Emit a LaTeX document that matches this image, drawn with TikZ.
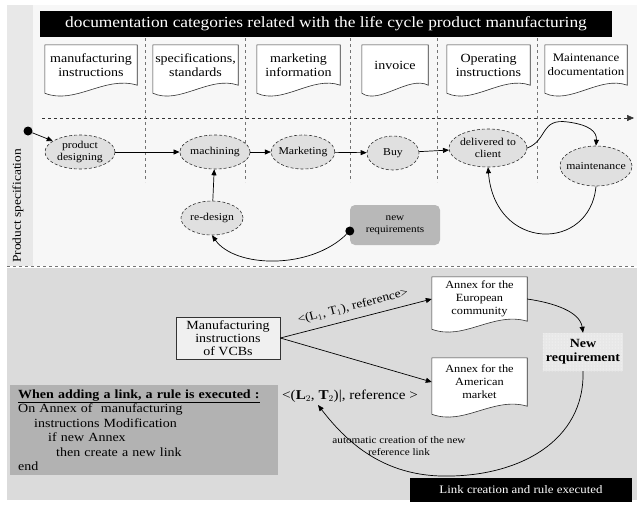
\documentclass[tikz,border=0pt]{standalone}
\usepackage{fontspec}
\setmainfont{Liberation Serif}[FakeStretch=1.12]
\usepackage{tikz}
\usetikzlibrary{calc}
\usetikzlibrary{arrows.meta}
\usetikzlibrary{patterns}
\usetikzlibrary{shapes.geometric}
\pgfdeclarelayer{bg}
\pgfdeclarelayer{mid}
\pgfsetlayers{bg,mid,main}

\begin{document}
\begin{tikzpicture} [x=1pt, y=-1pt, font=\fontsize{12}{13.5}\selectfont,
  arr/.style={-{Triangle[length=6pt,width=5pt]}, line width=.7pt},
  sep/.style={black!55, dashed, line width=.5pt},
  docu/.style={align=center, inner sep=1pt, minimum height=40, font=\fontsize{12.5}{14}\selectfont},
  docline/.style={draw=black!80, fill=white, line width=.6pt},
  stage/.style={ellipse, draw=black!80, densely dashed, line width=.6pt, fill=black!12, align=center, inner sep=0pt, minimum height=34, font=\fontsize{10.5}{12.5}\selectfont},
  dot/.style={circle, fill=black, inner sep=0pt, minimum size=9},
  bar/.style={fill=black, text=white, inner sep=0pt, minimum height=24}]

\begin{pgfonlayer}{bg}
\fill[white] (0,0) rectangle (637,504);
\fill[black!9] (7,5) rectangle (33,266);
\fill[black!3] (33,5) rectangle (637,266);
\fill[black!14] (7,268) rectangle (637,500);
\end{pgfonlayer}
\useasboundingbox (0,0) rectangle (637,504);

\node[bar, minimum width=572, minimum height=26, font=\fontsize{15.5}{17}\selectfont] (title) at (326,24) {documentation categories related with the life cycle product manufacturing};

\foreach \x/\w/\n/\t in {91/92/d1/{manufacturing\\instructions}, 195.5/85/d2/{specifications,\\standards},
  298.5/83/d3/{marketing\\information}, 395/66/d4/{invoice}, 488.5/83/d5/{Operating\\instructions}}
\node[docu, minimum width=\w] (\n) at (\x,65) {\t};
\node[docu, minimum width=82, font=\fontsize{11.5}{14}\selectfont] (d6) at (586,65) {Maintenance\\documentation};

\node[docu, minimum width=95, minimum height=44, font=\fontsize{11}{13}\selectfont] (eu) at (479.5,299) {Annex for the\\European\\community};
\node[docu, minimum width=95, minimum height=48, font=\fontsize{11}{13}\selectfont] (am) at (479.5,382) {Annex for the\\American\\market};

\begin{pgfonlayer}{mid}
\foreach \n in {d1,d2,d3,d4,d5,d6,eu,am}
\draw[docline] (\n.north west) -- (\n.north east) -- (\n.south east)
  .. controls ($(\n.south)+(14,-10)$) and ($(\n.south)+(-16,20)$) .. ($(\n.south west)+(0,8)$) -- cycle;
\end{pgfonlayer}

\foreach \x in {145,245,350,437,537}
\draw[sep] (\x,38) -- (\x,182);
\coordinate (t0) at (42,118);
\coordinate (t1) at (634,118);
\draw[sep, -{Triangle[length=7pt,width=6pt]}, black!80] (t0) -- (t1);

\node[rotate=90, font=\fontsize{12}{13}\selectfont] (spec) at (18,206) {Product specification};

\node[dot] (start) at (28,131) {};
\node[stage, minimum width=70] (pd) at (80,152) {product\\designing};
\node[stage, minimum width=68] (mach) at (215,152) {machining};
\node[stage, minimum width=62, inner xsep=-2pt] (mkt) at (303,152) {Marketing};
\node[stage, minimum width=52] (buy) at (393,153) {Buy};
\node[stage, minimum width=78, minimum height=38, inner xsep=-2pt] (dlv) at (488,148) {delivered to\\client};
\node[stage, minimum width=72, minimum height=40, inner xsep=-5pt] (mnt) at (596,166) {maintenance};
\node[stage, minimum width=62] (red) at (212,218) {re-design};
\node[rounded corners=5, fill=black!28, minimum width=90, minimum height=40, align=center, font=\fontsize{10}{12}\selectfont] (newreq) at (395,225) {new\\requirements};
\node[dot] (nrdot) at ([yshift=-6]newreq.west) {};

\draw[arr] (start) -- (pd);
\draw[arr] (pd) -- (mach);
\draw[arr] (mach) -- (mkt);
\draw[arr] (mkt) -- (buy);
\draw[arr] (buy) -- (dlv);
\draw[arr] (dlv.east) .. controls (548,140) and (540,118) .. (568,122) .. controls (590,125) and (597,132) .. (mnt.north);
\draw[arr] (mnt.south) .. controls (590,252) and (495,252) .. (dlv.south);
\draw[arr] (red) -- (mach);
\draw[arr] (nrdot) .. controls (310,270) and (235,268) .. (red.south);

\draw[sep] (7,266) -- (637,266);

\node[draw=black!80, line width=.6pt, fill=black!6, minimum width=104, minimum height=42, align=center, inner sep=1pt, font=\fontsize{12.5}{13}\selectfont] (vcb) at (228,338) {Manufacturing\\instructions\\of VCBs};
\node[minimum width=80, minimum height=38, align=center, preaction={fill=black!9}, pattern=dots, pattern color=white, font=\bfseries\fontsize{12.5}{14}\selectfont] (nreq) at (583,352) {New\\requirement};

\draw[arr] (vcb.east) -- (eu.west) node[midway, above=3pt, sloped, font=\fontsize{12}{13}\selectfont] {<(L$_1$, T$_1$), reference>};
\draw[arr] (vcb.east) -- (am.west);
\draw[arr] (eu.east) .. controls (555,303) and (580,312) .. (nreq.north);

\node[anchor=west, inner sep=0pt, font=\fontsize{13.5}{14}\selectfont] (ref2) at (282,396) {<(\textbf{L}$_2$, \textbf{T}$_2$)|, reference >};
\coordinate (refpt) at (318,405);
\node[align=center, font=\fontsize{10}{12.5}\selectfont] (autolbl) at (399,446) {automatic creation of the new\\reference link};
\draw[arr] (nreq.south) .. controls (585,440) and (520,478) .. (440,476) .. controls (380,474) and (345,440) .. (refpt);

\node[anchor=north west, fill=black!30, minimum width=268, minimum height=90, text width=252, align=left, inner xsep=8pt, inner ysep=4pt, font=\fontsize{12.5}{14.5}\selectfont] (rule) at (10,385)
  {\underline{\textbf{When adding a link, a rule is executed :}}\\
   On Annex of \ manufacturing\\
   \hspace*{16pt}instructions Modification\\
   \hspace*{30pt}if new Annex\\
   \hspace*{38pt}then create a new link\\
   end};

\node[bar, minimum width=222, font=\fontsize{11.5}{13}\selectfont] (linkrule) at (521,490) {Link creation and rule executed};

\end{tikzpicture}
\end{document}
